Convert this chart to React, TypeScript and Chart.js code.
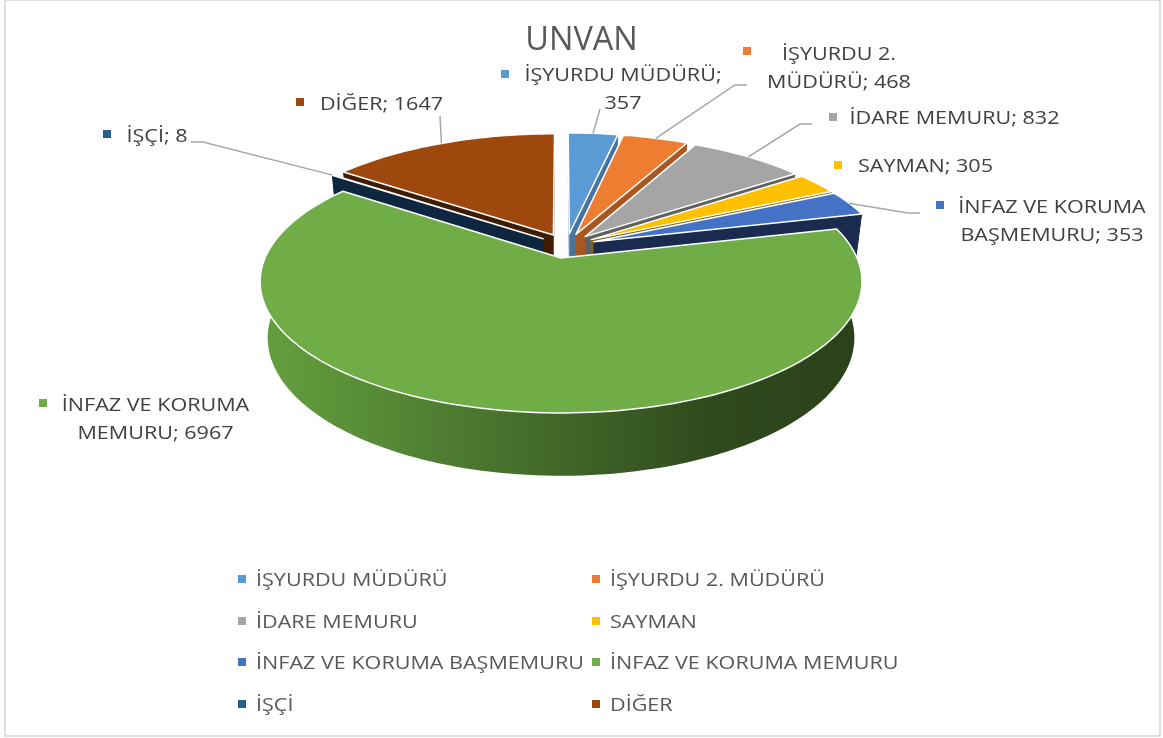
import React, { useEffect, useRef } from "react";
import { Chart, registerables } from "chart.js";

Chart.register(...registerables);

const TITLE = "UNVAN";
const categories = [
  "İŞYURDU MÜDÜRÜ",
  "İŞYURDU 2. MÜDÜRÜ",
  "İDARE MEMURU",
  "SAYMAN",
  "İNFAZ VE KORUMA BAŞMEMURU",
  "İNFAZ VE KORUMA MEMURU",
  "İŞÇİ",
  "DİĞER",
];
const values = [357, 468, 832, 305, 353, 6967, 8, 1647];
const colors = ["#5B9BD5", "#ED7D31", "#A5A5A5", "#FFC000", "#4472C4", "#70AD47", "#255E91", "#9E480E"];
const wallColors = ["#44749F", "#A85722", "#606060", "#7A6418", "#1A2B50", "#2F4A1D", "#0E2640", "#3F1D05"];

// Wrapped text of the data labels
const dataLabelLines = [
  ["İŞYURDU MÜDÜRÜ;", "357"],
  ["İŞYURDU 2.", "MÜDÜRÜ; 468"],
  ["İDARE MEMURU; 832"],
  ["SAYMAN; 305"],
  ["İNFAZ VE KORUMA", "BAŞMEMURU; 353"],
  ["İNFAZ VE KORUMA", "MEMURU; 6967"],
  ["İŞÇİ; 8"],
  ["DİĞER; 1647"],
];

// Placement of each data label: marker, text centre x, line centres y, leader elbow points
const labelLayout: { m: [number, number]; cx: number; ys: number[]; leader?: [number, number][] }[] = [
  { m: [505, 74], cx: 623, ys: [74, 102], leader: [[600, 109]] },
  { m: [747, 51], cx: 839, ys: [53, 81], leader: [[735, 85], [747, 85]] },
  { m: [833, 117], cx: 954.5, ys: [117] },
  { m: [838, 165], cx: 925.5, ys: [165] },
  { m: [940, 205], cx: 1052, ys: [206, 234], leader: [[908, 213], [920, 213]] },
  { m: [43, 403], cx: 155.5, ys: [404, 432] },
  { m: [107, 134], cx: 157, ys: [135], leader: [[203, 142], [191, 142]] },
  { m: [300, 102], cx: 381.5, ys: [103], leader: [[440, 116]] },
];
labelLayout[2].leader = [[800, 124], [812, 124]];

const legendCols = [256, 610];
const legendRows = [579, 621, 662, 704];

// Perspective projection of the pie plane onto the page
const OX = 561, OY = 258, RX = 296, SY = 127, DZ = 57, P = 0.18, Q = 0.025;
const U0 = -0.019, V0 = 0.098, EXPLODE = 0.1;
const TEXT_STRETCH = 1.135;

function project(U: number, V: number, Z: number): [number, number] {
  const u = U - U0, v = V - V0;
  const w = 1 - P * v + Q * Z;
  return [OX + (RX * u) / w, OY + (SY * v + DZ * Z) / w];
}

function polygon(ctx: CanvasRenderingContext2D, pts: [number, number][]) {
  ctx.beginPath();
  pts.forEach((p, i) => (i ? ctx.lineTo(p[0], p[1]) : ctx.moveTo(p[0], p[1])));
  ctx.closePath();
}

function stretchedText(ctx: CanvasRenderingContext2D, text: string, x: number, y: number) {
  ctx.save();
  ctx.translate(x, y + 7);
  ctx.scale(TEXT_STRETCH, 1);
  ctx.fillText(text, 0, 0);
  ctx.restore();
}

function sliceGeom(arc: any) {
  const mid = (arc.startAngle + arc.endAngle) / 2;
  const cu = Math.cos(mid) * EXPLODE, cv = Math.sin(mid) * EXPLODE;
  const steps = Math.max(2, Math.ceil(((arc.endAngle - arc.startAngle) * 180) / Math.PI / 1.5));
  const rim: [number, number][] = [];
  for (let i = 0; i <= steps; i++) {
    const a = arc.startAngle + ((arc.endAngle - arc.startAngle) * i) / steps;
    rim.push([cu + Math.cos(a), cv + Math.sin(a)]);
  }
  return { cu, cv, rim, mid };
}

const pie3d = {
  id: "pie3d",
  beforeDatasetsDraw(chart: any) {
    const ctx: CanvasRenderingContext2D = chart.ctx;
    const arcs = chart.getDatasetMeta(0).data;
    const order = arcs
      .map((arc: any, i: number) => ({ i, arc, g: sliceGeom(arc) }))
      .sort((a: any, b: any) => Math.sin(a.g.mid) - Math.sin(b.g.mid));
    ctx.save();
    ctx.lineJoin = "round";
    for (const { i, g } of order) {
      const top = g.rim.map((r: [number, number]) => project(r[0], r[1], 0));
      const bottom = g.rim.map((r: [number, number]) => project(r[0], r[1], 1));
      const apexT = project(g.cu, g.cv, 0), apexB = project(g.cu, g.cv, 1);
      let wall: any = wallColors[i];
      if (values[i] === Math.max(...values)) {
        const gr = ctx.createLinearGradient(260, 0, 862, 0);
        gr.addColorStop(0, "#64A03F");
        gr.addColorStop(0.2, "#568A36");
        gr.addColorStop(0.45, "#446C2B");
        gr.addColorStop(0.75, "#2F4A1D");
        gr.addColorStop(1, "#2A411A");
        wall = gr;
      }
      ctx.fillStyle = wall;
      polygon(ctx, [...top, ...bottom.slice().reverse()]);
      ctx.fill();
      polygon(ctx, [apexT, top[0], bottom[0], apexB]);
      ctx.fill();
      polygon(ctx, [apexT, top[top.length - 1], bottom[bottom.length - 1], apexB]);
      ctx.fill();
      polygon(ctx, [apexT, ...top]);
      ctx.fillStyle = colors[i];
      ctx.fill();
      ctx.strokeStyle = "#FFFFFF";
      ctx.lineWidth = 1.5;
      ctx.stroke();
    }
    ctx.restore();
    return false;
  },
  afterDraw(chart: any) {
    const ctx: CanvasRenderingContext2D = chart.ctx;
    const arcs = chart.getDatasetMeta(0).data;
    ctx.save();
    // page frame
    ctx.strokeStyle = "#DEDEDE";
    ctx.lineWidth = 2;
    ctx.strokeRect(5, 0, 1155, 736);
    // leaders
    ctx.strokeStyle = "#A6A6A6";
    ctx.lineWidth = 1.5;
    labelLayout.forEach((l, i) => {
      if (!l.leader) return;
      const g = sliceGeom(arcs[i]);
      const p = project(g.cu + Math.cos(g.mid), g.cv + Math.sin(g.mid), 0);
      ctx.beginPath();
      ctx.moveTo(p[0], p[1]);
      l.leader.forEach((q) => ctx.lineTo(q[0], q[1]));
      ctx.stroke();
    });
    // data labels
    ctx.textBaseline = "alphabetic";
    ctx.textAlign = "center";
    ctx.font = "19px 'Open Sans'";
    labelLayout.forEach((l, i) => {
      ctx.fillStyle = colors[i];
      ctx.fillRect(l.m[0] - 4, l.m[1] - 4, 8, 8);
      ctx.fillStyle = "#404040";
      dataLabelLines[i].forEach((line, k) => stretchedText(ctx, line, l.cx, l.ys[k]));
    });
    // legend
    ctx.textAlign = "left";
    categories.forEach((name, i) => {
      const x = legendCols[i % 2], y = legendRows[Math.floor(i / 2)];
      ctx.fillStyle = colors[i];
      ctx.fillRect(x - 18, y - 4, 8, 8);
      ctx.fillStyle = "#595959";
      stretchedText(ctx, name, x, y);
    });
    ctx.restore();
  },
};

export default function App() {
  const ref = useRef<HTMLCanvasElement>(null);
  useEffect(() => {
    const chart = new Chart(ref.current as HTMLCanvasElement, {
      type: "pie",
      data: {
        labels: categories,
        datasets: [{ data: values, backgroundColor: colors, borderColor: "#FFFFFF", borderWidth: 1, offset: 30 }],
      },
      options: {
        responsive: false,
        animation: false,
        layout: { padding: 0 },
        plugins: {
          legend: { display: false },
          tooltip: { enabled: false },
          title: {
            display: true,
            text: TITLE,
            color: "#595959",
            align: "center",
            font: { family: "'Open Sans'", size: 32.5, weight: "normal" },
            padding: { top: 21, bottom: 6 },
          },
        },
      },
      plugins: [pie3d],
    } as any);
    return () => chart.destroy();
  }, []);
  return (
    <div style={{ position: "absolute", left: 0, top: 0, width: 1163, height: 738, background: "#FFFFFF" }}>
      <canvas ref={ref} width={1163} height={738} style={{ display: "block" }} />
    </div>
  );
}
